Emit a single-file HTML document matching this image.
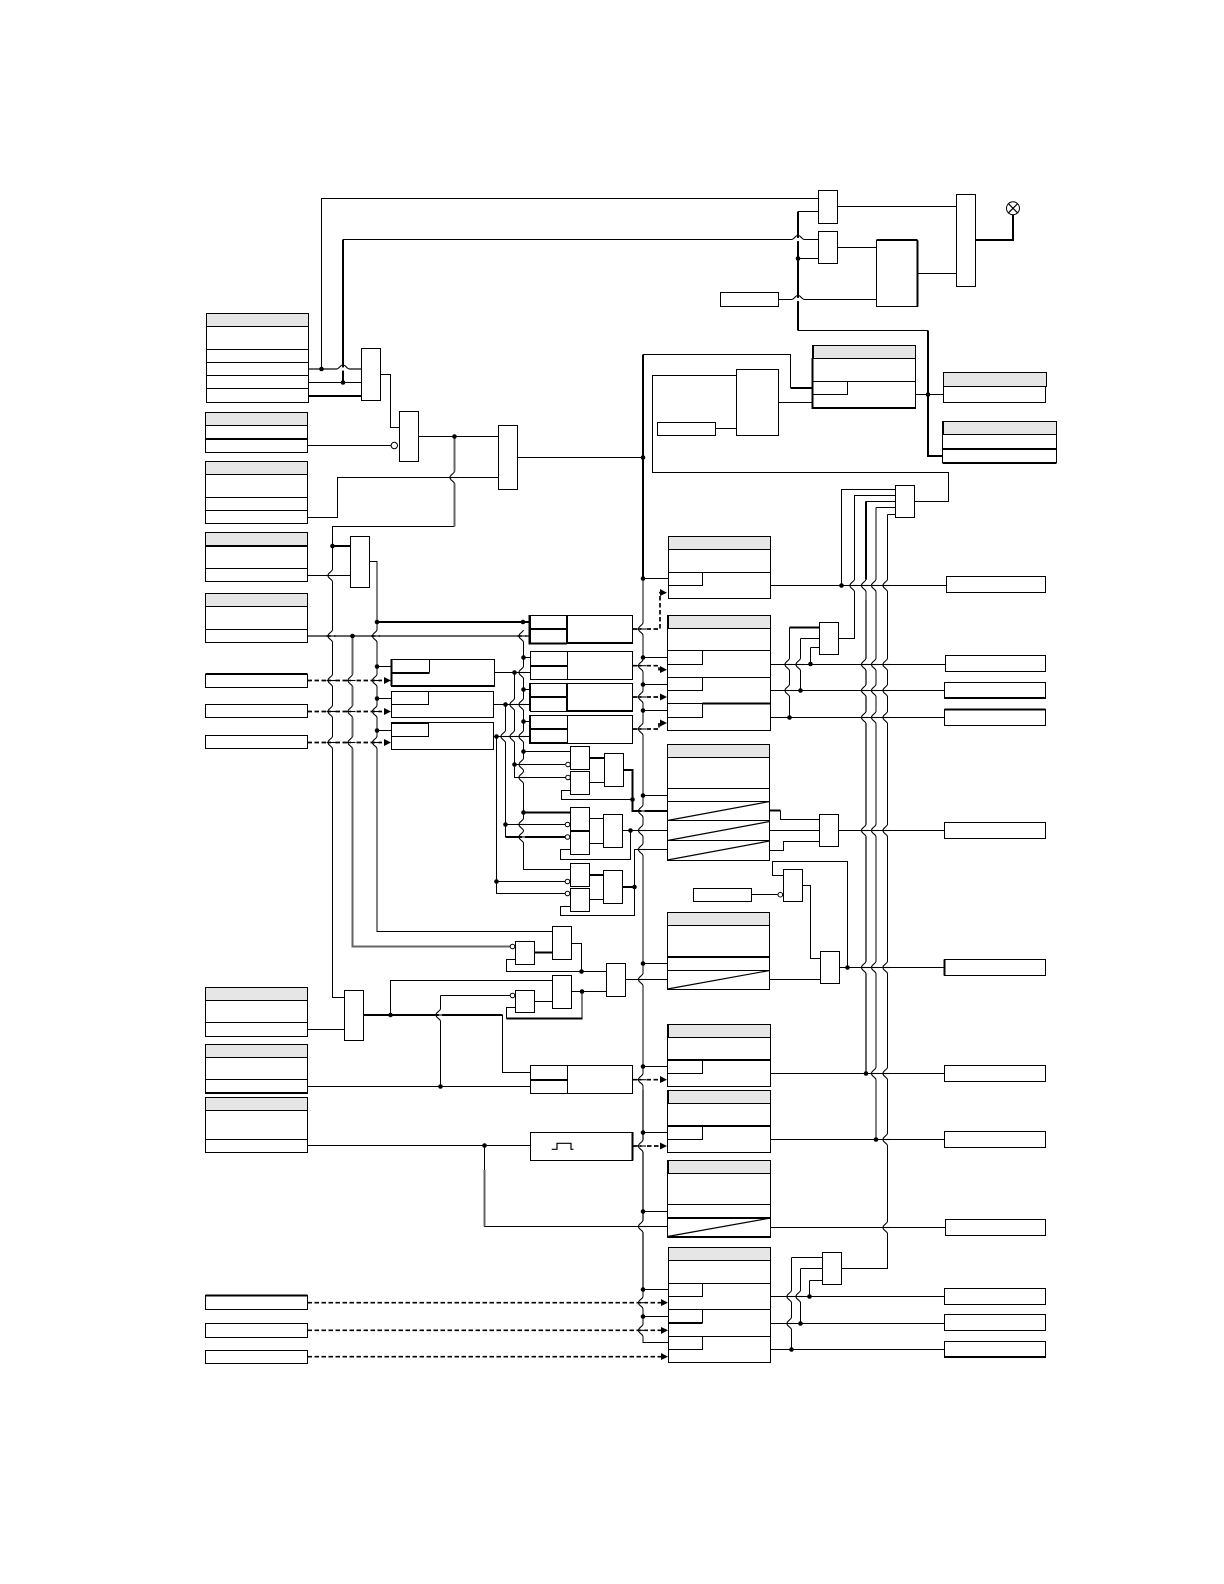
<!DOCTYPE html>
<html><head><meta charset="utf-8"><title>Diagram</title>
<style>
html,body{margin:0;padding:0;background:#fff}
svg{display:block}
.t{fill:none;stroke:#000;stroke-width:1.1;shape-rendering:crispEdges}
.k{fill:none;stroke:#000;stroke-width:2;shape-rendering:crispEdges}
.g{fill:none;stroke:#666;stroke-width:1.6;shape-rendering:crispEdges}
.d{fill:none;stroke:#000;stroke-width:1.7;stroke-dasharray:4.5 2.5}
.b rect{fill:#fff;stroke:#000;stroke-width:1.1;shape-rendering:crispEdges}
.h rect{fill:#e6e6e6;stroke:#000;stroke-width:1.1;shape-rendering:crispEdges}
.n circle{fill:#000}
.o circle{fill:#fff;stroke:#000;stroke-width:1}
.x{fill:none;stroke:#000;stroke-width:1.2}
</style></head><body>
<svg width="1224" height="1584" viewBox="0 0 1224 1584" xmlns="http://www.w3.org/2000/svg">
<defs>
<g id="h"><rect x="-1.6" y="-6" width="3.2" height="12" fill="#fff"/><path d="M0-6C-1-3-4.5-3-4.5 0S-1 3 0 6" fill="none" stroke="#000" stroke-width="1.1"/><path d="M-6 0H3" fill="none" stroke="#000" stroke-width="1.1"/></g>
<g id="u"><rect x="-6" y="-1.6" width="12" height="3.2" fill="#fff"/><path d="M-6 0C-3-1-3-4 0-4S3-1 6 0" fill="none" stroke="#000" stroke-width="1.1"/></g>
</defs>

<!-- thin lines -->
<path class="t" d="M321.5 369V198.5H818.5M343 239.5H818.5M308 382.5H361.5M380.5 374.5H390.5V427.5H399.5M307.5 445.5H391M418.5 436.5H498.5M307.5 517.5H337.5V477.5H498.5M517.5 457.5H643M454.5 526.5H332.5V997.5H344.5M308 575.5H350.5M369.5 561.5H377V931.5H552.5
M377 666.5H391M377 698.5H391M377 730.5H391M493.5 672.5H530M493.5 704.5H530M493.5 736.5H530
M514.5 672.5V777.5H568M514.5 764.5H565M505.5 704.5V837M505.5 824.5H565M496.5 736.5V893.5H565M496.5 881.5H565
M523.5 636V869.5H570.5M523.5 657.5H530M523.5 689.5H530M523.5 721.5H530M523.5 751.5H570.5
M589.5 782.5H604.5M570.5 790.5H561.5V799.5H632.5M589.5 818.5H603.5M589.5 843.5H603.5M622.5 830.5H667M570.5 849.5H560.5V859.5H630.5V830.5M589.5 899.5H603.5M570.5 906.5H560.5V915.5H634.5V849.5H667
M643 578.5V1342.5H668M643 578.5H669M643 657.5H667M643 684.5H667M643 710.5H667M643 795.5H667M643 963.5H667.5M643 1066.5H667M643 1132.5H668M643 1211.5H667.5M643 1289.5H668M643 1316.5H668
M736.5 375.5H652.5V472.5H948.5V501.5H914.5M715.5 428.5H736.5M778.5 402.5H812.5M643 354.5H790.5V388M915.5 394.5H943M798 258.5H818.5M798 211.5H818.5M837.5 247.5H876.5M837.5 206.5H956.5M918 273.5H956.5M778.5 299.5H876.5M928 330.5H798
M770.5 585.5H946M770.5 664.5H945M770.5 690.5H944M770.5 717.5H944M789.5 627.5V717.5M800.5 638.5V690.5M800.5 638.5H819.5M810.5 647.5V664M810.5 647.5H819.5M838.5 638.5H854.5V495.5H895.5M841.5 585.5V489.5H895.5M865.5 501.5H895.5M876 507.5H895.5M887.5 514.5H895.5M866 585V1073M876 507.5V1139M887.5 514.5V1268.5H841.5
M780.5 810.5V819.5H819.5M769.5 830.5H819.5M769.5 850.5H783.5V841.5H819.5M838.5 830.5H944M751.5 894.5H780M783.5 875.5H772.5V861.5H847.5V967.5M802.5 885.5H810.5V958.5H820.5M769.5 979.5H820.5M839.5 967.5H944
M770 1073.5H944M770 1139.5H944M770.5 1227.5H945M800.5 1268.5V1323M800.5 1268.5H822.5M791.5 1257.5H822.5M791.5 1257.5V1349M809.5 1280.5H822.5M809.5 1280.5V1296M770.5 1296.5H944M770.5 1323.5H944M770.5 1349.5H944
M625.5 979.5H667.5M571.5 943.5H581.5V971.5H506.5V959.5H515.5M581.5 971.5H606.5M582 991.5H606.5M571.5 991.5H582V1018M506.5 1018.5V1007.5H515.5M534.5 1001.5H552.5M390.5 1015V980.5H552.5M440.5 995.5V1086.5M440.5 995.5H510M502.5 1015V1072.5H530.5M307.5 1029.5H344.5M307.5 1086.5H530.5M307.5 1145.5H530.5M484.5 1145.5V1226.5H667.5M307.5 635.5H530"/>

<!-- thick / grey lines -->
<path class="k" d="M343 239.5V382M308 396H361.5M332.5 546H350.5M377 622H530M589.5 758H604.5M623.5 770H632.5V811H667M523 812.5H570.5M505.5 837H565M589.5 875H603.5M622.5 887H634.5M643 354.5V578M789.5 627.5H819.5M866 501.5V585M790.5 388H812.5M928 330.5V456H942.5M798 211.5V330.5M975.5 240H1013V214M534.5 952.5H552.5M506.5 1018.5H582.5M363.5 1015H502.5M769.5 810.5H780.5"/>
<path class="g" d="M308 369H361.5M352.5 636V946.5H512M454.5 436.5V526.5M308 636H530M866 600V1073M643 1090V1290M484.5 1170V1226.5"/>

<!-- dashed -->
<path class="d" d="M307.5 680.5H385M307.5 711.5H385M307.5 742.5H385M632.5 629H660V592.7H664M632.5 665.7H659V669.7H664M632.5 697H662M632.5 729H659V723H664M632.5 1079.7H662M633 1146H662M307.5 1302.7H662M307.5 1330.3H662M307.5 1356.7H662"/>

<!-- arrowheads -->
<g fill="#000">
<path d="M384 677L391 680.5L384 684zM384 708L391 711.5L384 715zM384 739L391 742.5L384 746zM660 589L667 592.7L660 596zM660 666L667 669.7L660 673zM660 693.5L667 697L660 700.5zM660 719.5L667 723L660 726.5zM660 1076L667 1079.7L660 1083zM660 1142.5L667 1146L660 1149.5zM661 1299L668 1302.7L661 1306zM661 1327L668 1330.3L661 1334zM661 1353L668 1356.7L661 1360z"/>
</g>

<!-- boxes -->
<g class="b">
<rect x="206.5" y="313.5" width="102" height="89"/><rect x="205.5" y="412.5" width="102" height="40"/><rect x="205.5" y="461.5" width="102" height="62"/><rect x="205.5" y="532.5" width="102" height="49"/><rect x="205.5" y="593.5" width="102" height="49"/>
<rect x="205.5" y="987.5" width="102" height="49"/><rect x="205.5" y="1044.5" width="102" height="49"/><rect x="205.5" y="1097.5" width="102" height="55"/>
<rect x="205.5" y="674.5" width="102" height="13"/><rect x="205.5" y="704.5" width="102" height="13"/><rect x="205.5" y="735.5" width="102" height="13"/>
<rect x="205.5" y="1295.5" width="102" height="14"/><rect x="205.5" y="1323.5" width="102" height="14"/><rect x="205.5" y="1350.5" width="102" height="13"/>
<!-- gates left -->
<rect x="361.5" y="348.5" width="19" height="52"/><rect x="399.5" y="411.5" width="19" height="50"/><rect x="498.5" y="425.5" width="19" height="64"/><rect x="350.5" y="536.5" width="19" height="51"/><rect x="344.5" y="990.5" width="19" height="50"/>
<!-- mid -->
<rect x="391.5" y="659.5" width="103" height="27"/><rect x="391.5" y="691.5" width="102" height="26"/><rect x="391.5" y="722.5" width="102" height="27"/>
<rect x="530.5" y="615.5" width="102" height="28"/><rect x="530.5" y="651.5" width="102" height="28"/><rect x="530.5" y="683.5" width="102" height="28"/><rect x="530.5" y="715.5" width="102" height="28"/>
<rect x="570.5" y="746.5" width="19" height="23"/><rect x="570.5" y="771.5" width="19" height="23"/><rect x="604.5" y="753.5" width="19" height="33"/>
<rect x="570.5" y="807.5" width="19" height="23"/><rect x="570.5" y="830.5" width="19" height="24"/><rect x="603.5" y="814.5" width="19" height="33"/>
<rect x="570.5" y="863.5" width="19" height="23"/><rect x="570.5" y="888.5" width="19" height="23"/><rect x="603.5" y="870.5" width="19" height="33"/>
<rect x="552.5" y="926.5" width="19" height="33"/><rect x="515.5" y="941.5" width="19" height="23"/><rect x="552.5" y="975.5" width="19" height="33"/><rect x="515.5" y="990.5" width="19" height="22"/><rect x="606.5" y="963.5" width="19" height="33"/>
<rect x="530.5" y="1065.5" width="102" height="28"/><rect x="530.5" y="1132.5" width="102" height="28"/>
<!-- tables center -->
<rect x="668.5" y="536.5" width="102" height="62"/><rect x="667.5" y="615.5" width="103" height="115"/><rect x="667.5" y="744.5" width="102" height="116"/><rect x="667.5" y="912.5" width="102" height="77"/><rect x="667.5" y="1024.5" width="103" height="62"/><rect x="667.5" y="1090.5" width="103" height="62"/><rect x="667.5" y="1160.5" width="103" height="77"/><rect x="668.5" y="1247.5" width="102" height="115"/>
<rect x="812.5" y="345.5" width="103" height="63"/>
<!-- top right -->
<rect x="818.5" y="190.5" width="19" height="33"/><rect x="818.5" y="231.5" width="19" height="32"/><rect x="876.5" y="240.5" width="41" height="66"/><rect x="956.5" y="194.5" width="19" height="92"/><rect x="720.5" y="292.5" width="58" height="14"/>
<rect x="736.5" y="369.5" width="42" height="66"/><rect x="657.5" y="422.5" width="58" height="13"/>
<rect x="943.5" y="372.5" width="102" height="30"/><rect x="942.5" y="421.5" width="114" height="41"/>
<rect x="895.5" y="485.5" width="19" height="32"/><rect x="819.5" y="622.5" width="19" height="32"/><rect x="819.5" y="814.5" width="19" height="32"/><rect x="783.5" y="869.5" width="19" height="32"/><rect x="693.5" y="888.5" width="58" height="13"/><rect x="820.5" y="951.5" width="19" height="32"/><rect x="822.5" y="1252.5" width="19" height="32"/>
<!-- outputs -->
<rect x="946.5" y="576.5" width="99" height="16"/><rect x="945.5" y="655.5" width="100" height="16"/><rect x="944.5" y="682.5" width="101" height="16"/><rect x="944.5" y="709.5" width="101" height="16"/><rect x="944.5" y="822.5" width="101" height="16"/><rect x="944.5" y="959.5" width="101" height="16"/><rect x="944.5" y="1065.5" width="101" height="16"/><rect x="944.5" y="1131.5" width="101" height="16"/><rect x="945.5" y="1219.5" width="100" height="16"/><rect x="944.5" y="1288.5" width="101" height="16"/><rect x="944.5" y="1314.5" width="101" height="16"/><rect x="944.5" y="1341.5" width="101" height="16"/>
</g>

<!-- headers -->
<g class="h">
<rect x="206.5" y="313.5" width="102" height="13"/><rect x="205.5" y="412.5" width="102" height="13"/><rect x="205.5" y="461.5" width="102" height="13"/><rect x="205.5" y="532.5" width="102" height="13"/><rect x="205.5" y="593.5" width="102" height="13"/><rect x="205.5" y="987.5" width="102" height="13"/><rect x="205.5" y="1044.5" width="102" height="13"/><rect x="205.5" y="1097.5" width="102" height="13"/>
<rect x="668.5" y="536.5" width="102" height="13"/><rect x="668.5" y="615.5" width="102" height="13"/><rect x="667.5" y="744.5" width="102" height="13"/><rect x="667.5" y="912.5" width="102" height="13"/><rect x="668.5" y="1024.5" width="102" height="13"/><rect x="668.5" y="1090.5" width="102" height="13"/><rect x="668.5" y="1160.5" width="102" height="13"/><rect x="668.5" y="1247.5" width="102" height="13"/>
<rect x="813.5" y="345.5" width="102" height="13"/><rect x="943.5" y="372.5" width="103" height="14"/><rect x="943.5" y="421.5" width="113" height="13"/>
</g>

<!-- internal rows, thin -->
<path class="t" d="M206.5 349.5H308.5M206.5 362.5H308.5M206.5 375.5H308.5M206.5 388.5H308.5M205.5 497.5H307.5M205.5 510.5H307.5M205.5 568.5H307.5M205.5 629.5H307.5M205.5 1022.5H307.5M205.5 1079.5H307.5M205.5 1139.5H307.5
M391.5 704.5H428.5V691.5M391.5 736.5H428.5V722.5M429.5 659.5V672.5M567.5 651.5V679.5M567.5 715.5V743.5M567.5 1065.5V1093.5
M668.5 572.5H770.5M668.5 585.5H702.5V572.5M667.5 650.5H770.5M667.5 664.5H702.5V650.5M667.5 677.5H770.5M667.5 690.5H702.5V677.5M667.5 717.5H702.5V703.5M667.5 703.5H702.5
M667.5 788.5H769.5M667.5 801.5H769.5M667.5 820.5H769.5M667.5 840.5H769.5M667.5 970.5H769.5
M667.5 1073.5H702.5V1060M667.5 1139.5H702.5V1126M667.5 1204.5H770.5M668.5 1283.5H770.5M668.5 1296.5H702.5V1283.5M668.5 1309.5H770.5M702.5 1323V1309.5M668.5 1336.5H770.5M668.5 1349.5H702.5V1336.5M812.5 381.5H915.5M812.5 394.5H847.5V381.5"/>
<!-- internal rows, thick -->
<path class="k" d="M205.5 439H307.5M205.5 546H307.5M391.5 673H429.5M391.5 686H494.5M391.5 659V686M391.5 723H428.5M530 629H567M567 615.5V643.5M567 643H632.5M529.5 615V643.5H567M530.5 666H567M567 683V711.5M530 697H567M530 683V711M567 711H632.5M530 729H567M530 715V743H567M530.5 1080H567M702.5 703.5H770.5M667.5 957H769.5M667.5 1060H770.5M667.5 1126H770.5M667.5 1218H770.5M667.5 1237H770.5M668.5 1323H702.5M812.5 358V408H915.5M917.5 240.5V306.5M876.5 240H917.5M942.5 449H1056.5M942.5 463H1056.5M205.5 1093H307.5M205.5 674H307.5M205.5 1295.5H307.5M944.5 698H1045.5M944.5 709.5H1045.5M944.5 1357H1045.5M944.5 959.5V975.5M632.5 1132V1160.5M570.5 831H589.5"/>

<!-- diagonals and pulse -->
<path class="x" d="M667.5 820.5L769.5 801.5M667.5 840.5L769.5 821.5M667.5 860L769.5 841M667.5 989L769.5 970.5M667.5 1236.5L770.5 1218M551.7 1149.3H557V1143.3H571V1149.3H573.5"/>

<!-- hops vertical -->
<use href="#h" x="332.5" y="575.5"/><use href="#h" x="332.5" y="636"/><use href="#h" x="332.5" y="680.5"/><use href="#h" x="332.5" y="711.5"/><use href="#h" x="332.5" y="742.5"/>
<use href="#h" x="352.5" y="680.5"/><use href="#h" x="352.5" y="711.5"/><use href="#h" x="352.5" y="742.5"/>
<use href="#h" x="377" y="636"/><use href="#h" x="377" y="680.5"/><use href="#h" x="377" y="711.5"/><use href="#h" x="377" y="742.5"/>
<use href="#h" x="454.5" y="477.5"/><use href="#h" x="440.5" y="1015"/>
<use href="#h" x="523.5" y="636"/><use href="#h" x="523.5" y="672.5"/><use href="#h" x="523.5" y="704.5"/><use href="#h" x="523.5" y="736.5"/><use href="#h" x="523.5" y="764.5"/><use href="#h" x="523.5" y="777.5"/><use href="#h" x="523.5" y="824.5"/><use href="#h" x="523.5" y="837"/>
<use href="#h" x="514.5" y="704.5"/><use href="#h" x="514.5" y="736.5"/><use href="#h" x="505.5" y="736.5"/>
<use href="#h" x="643" y="629"/><use href="#h" x="643" y="665.7"/><use href="#h" x="643" y="697"/><use href="#h" x="643" y="729"/><use href="#h" x="643" y="811"/><use href="#h" x="643" y="830.5"/><use href="#h" x="643" y="849.5"/><use href="#h" x="643" y="979.5"/><use href="#h" x="643" y="1079.7"/><use href="#h" x="643" y="1146"/><use href="#h" x="643" y="1226.5"/><use href="#h" x="643" y="1302.7"/><use href="#h" x="643" y="1330.3"/>
<use href="#h" x="854.5" y="585.5"/><use href="#h" x="866" y="585.5"/><use href="#h" x="876" y="585.5"/><use href="#h" x="887.5" y="585.5"/>
<use href="#h" x="866" y="664.5"/><use href="#h" x="876" y="664.5"/><use href="#h" x="887.5" y="664.5"/><use href="#h" x="866" y="690.5"/><use href="#h" x="876" y="690.5"/><use href="#h" x="887.5" y="690.5"/><use href="#h" x="866" y="717.5"/><use href="#h" x="876" y="717.5"/><use href="#h" x="887.5" y="717.5"/>
<use href="#h" x="866" y="830.5"/><use href="#h" x="876" y="830.5"/><use href="#h" x="887.5" y="830.5"/><use href="#h" x="866" y="967.5"/><use href="#h" x="876" y="967.5"/><use href="#h" x="887.5" y="967.5"/>
<use href="#h" x="876" y="1073.5"/><use href="#h" x="887.5" y="1073.5"/><use href="#h" x="887.5" y="1139.5"/><use href="#h" x="887.5" y="1227.5"/>
<use href="#h" x="789.5" y="664.5"/><use href="#h" x="789.5" y="690.5"/><use href="#h" x="800.5" y="664.5"/>
<use href="#h" x="791.5" y="1296.5"/><use href="#h" x="791.5" y="1323.5"/><use href="#h" x="800.5" y="1296.5"/>
<!-- hops horizontal -->
<use href="#u" x="343" y="369"/><use href="#u" x="798" y="239.5"/><use href="#u" x="798" y="299.5"/>

<!-- junction dots -->
<g class="n">
<circle cx="321.5" cy="369" r="2.3"/><circle cx="343" cy="382.5" r="2.3"/><circle cx="454.5" cy="436.5" r="2.3"/><circle cx="332.5" cy="546" r="2.3"/><circle cx="377" cy="622" r="2.3"/><circle cx="352.5" cy="636" r="2.3"/><circle cx="523" cy="622" r="2.3"/>
<circle cx="377" cy="666.5" r="2.3"/><circle cx="377" cy="698.5" r="2.3"/><circle cx="377" cy="730.5" r="2.3"/>
<circle cx="514.5" cy="672.5" r="2.3"/><circle cx="505.5" cy="704.5" r="2.3"/><circle cx="496.5" cy="736.5" r="2.3"/>
<circle cx="523.5" cy="657.5" r="2.3"/><circle cx="523.5" cy="689.5" r="2.3"/><circle cx="523.5" cy="721.5" r="2.3"/><circle cx="523.5" cy="751.5" r="2.3"/><circle cx="523.5" cy="812.5" r="2.3"/>
<circle cx="514.5" cy="764.5" r="2.3"/><circle cx="505.5" cy="824.5" r="2.3"/><circle cx="496.5" cy="881.5" r="2.3"/>
<circle cx="632.5" cy="799.5" r="2.3"/><circle cx="630.5" cy="830.5" r="2.3"/><circle cx="634.5" cy="887" r="2.3"/>
<circle cx="643" cy="457.5" r="2.3"/><circle cx="643" cy="578.5" r="2.3"/><circle cx="643" cy="657.5" r="2.3"/><circle cx="643" cy="684.5" r="2.3"/><circle cx="643" cy="710.5" r="2.3"/><circle cx="643" cy="795.5" r="2.3"/><circle cx="643" cy="963.5" r="2.3"/><circle cx="643" cy="1066.5" r="2.3"/><circle cx="643" cy="1132.5" r="2.3"/><circle cx="643" cy="1211.5" r="2.3"/><circle cx="643" cy="1289.5" r="2.3"/><circle cx="643" cy="1316.5" r="2.3"/>
<circle cx="581.5" cy="971.5" r="2.3"/><circle cx="582" cy="991.5" r="2.3"/><circle cx="390.5" cy="1015" r="2.3"/><circle cx="440.5" cy="1086.5" r="2.3"/><circle cx="484.5" cy="1145.5" r="2.3"/>
<circle cx="798" cy="258.5" r="2.3"/><circle cx="928" cy="394.5" r="2.3"/><circle cx="841.5" cy="585.5" r="2.3"/>
<circle cx="810.5" cy="664" r="2.3"/><circle cx="800.5" cy="690.5" r="2.3"/><circle cx="789.5" cy="717.5" r="2.3"/><circle cx="847.5" cy="967.5" r="2.3"/><circle cx="866" cy="1073.5" r="2.3"/><circle cx="876" cy="1139.5" r="2.3"/>
<circle cx="809.5" cy="1296.5" r="2.3"/><circle cx="800.5" cy="1323.5" r="2.3"/><circle cx="791.5" cy="1349.5" r="2.3"/>
</g>

<!-- inversion bubbles -->
<g class="o">
<circle cx="394.3" cy="445.5" r="3.2"/><circle cx="568" cy="764.5" r="2.3"/><circle cx="568" cy="777.5" r="2.3"/><circle cx="567.5" cy="824.5" r="2.3"/><circle cx="567.5" cy="837" r="2.3"/><circle cx="567.5" cy="881.5" r="2.3"/><circle cx="567.5" cy="893.5" r="2.3"/><circle cx="512.5" cy="946.5" r="2.3"/><circle cx="512.5" cy="995.5" r="2.3"/><circle cx="780.3" cy="894.7" r="2.3"/>
</g>

<!-- lamp -->
<circle cx="1013" cy="208.3" r="6.5" fill="#fff" stroke="#000" stroke-width="1"/>
<path class="x" d="M1008.4 203.7L1017.6 212.9M1017.6 203.7L1008.4 212.9"/>
</svg>
</body></html>
